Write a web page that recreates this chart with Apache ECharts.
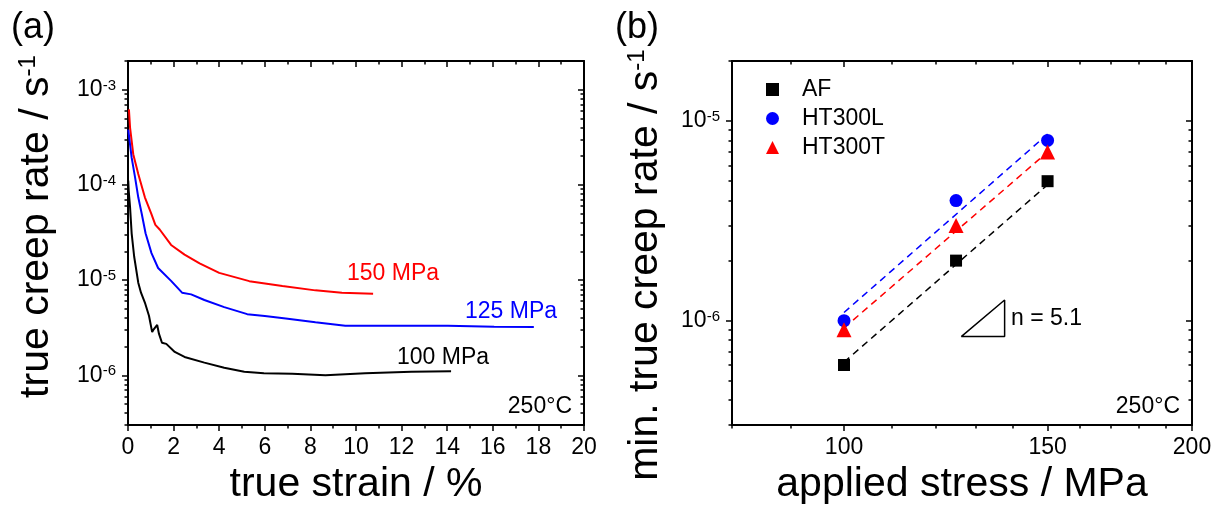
<!DOCTYPE html>
<html>
<head>
<meta charset="utf-8">
<script src="https://cdn.jsdelivr.net/npm/echarts@6/dist/echarts.min.js"></script>
<style>
html,body{margin:0;padding:0;background:#fff}
#main{width:1217px;height:510px}
</style>
</head>
<body>
<div id="main"></div>
<script>
// (a) creep curves, strain in %, rate in 1/s
const strain150 = [0.04, 0.09, 0.23, 0.45, 0.74, 1.02, 1.2, 1.39, 1.89, 2.48, 3.14, 4.0, 5.32, 6.77, 8.22, 9.38, 10.75]
const rate150 = [6.2e-4, 4.0e-4, 2.1e-4, 1.3e-4, 7.4e-5, 5.0e-5, 3.8e-5, 3.4e-5, 2.34e-5, 1.85e-5, 1.5e-5, 1.19e-5, 9.75e-6, 8.65e-6, 7.8e-6, 7.38e-6, 7.2e-6]
const strain125 = [0.01, 0.16, 0.31, 0.45, 0.6, 0.77, 1.03, 1.32, 1.9, 2.37, 2.77, 3.35, 4.22, 5.23, 6.0, 6.92, 8.22, 9.53, 11.85, 14.03, 16.06, 17.8]
const rate125 = [3.8e-4, 1.93e-4, 1.2e-4, 7.4e-5, 5.0e-5, 3.1e-5, 1.92e-5, 1.34e-5, 9.75e-6, 7.38e-6, 7.08e-6, 6.18e-6, 5.2e-6, 4.39e-6, 4.2e-6, 3.96e-6, 3.6e-6, 3.32e-6, 3.32e-6, 3.32e-6, 3.24e-6, 3.22e-6]
const strain100 = [0.01, 0.03, 0.09, 0.16, 0.27, 0.45, 0.57, 0.74, 0.92, 1.06, 1.12, 1.28, 1.36, 1.49, 1.68, 2.05, 2.48, 3.35, 4.22, 5.1, 5.96, 7.2, 8.66, 10.4, 12.43, 14.17]
const rate100 = [1.11e-4, 8.7e-5, 5.85e-5, 3.1e-5, 1.77e-5, 9.4e-6, 7.38e-6, 5.81e-6, 4.22e-6, 2.84e-6, 3.02e-6, 3.38e-6, 2.72e-6, 2.2e-6, 2.14e-6, 1.76e-6, 1.56e-6, 1.36e-6, 1.2e-6, 1.09e-6, 1.05e-6, 1.04e-6, 1.0e-6, 1.05e-6, 1.09e-6, 1.1e-6]

// (b) minimum creep rate vs stress
const stress = [100, 125, 150]
const rateAF = [6e-7, 2e-6, 5e-6]
const rateL = [1e-6, 4e-6, 8e-6]
const rateT = [9e-7, 3e-6, 7e-6]
// dashed fit lines (ends)
const fitStress = [100, 150]
const fitAF = [6.2e-7, 4.8e-6]
const fitL = [1.1e-6, 8.6e-6]
const fitT = [9.2e-7, 7.0e-6]
// slope triangle corners
const triX = [126.3, 137.7, 137.7, 126.3]
const triY = [8.33e-7, 8.33e-7, 1.27e-6, 8.33e-7]

// ticks
const ticksA_major = [1e-6, 1e-5, 1e-4, 1e-3]
const ticksA_minor = [3e-7, 4e-7, 5e-7, 6e-7, 7e-7, 8e-7, 9e-7,
  2e-6, 3e-6, 4e-6, 5e-6, 6e-6, 7e-6, 8e-6, 9e-6,
  2e-5, 3e-5, 4e-5, 5e-5, 6e-5, 7e-5, 8e-5, 9e-5,
  2e-4, 3e-4, 4e-4, 5e-4, 6e-4, 7e-4, 8e-4, 9e-4, 2e-3]
const ticksB_major = [1e-6, 1e-5]
const ticksB_minor = [3e-7, 4e-7, 5e-7, 6e-7, 7e-7, 8e-7, 9e-7,
  2e-6, 3e-6, 4e-6, 5e-6, 6e-6, 7e-6, 8e-6, 9e-6, 2e-5]
const stressMajor = [100, 150, 200]
const stressMinor = [80, 90, 110, 120, 130, 140, 160, 170, 180, 190]

const FONT = 'Liberation Sans'
const BLACK = '#000000', RED = '#ff0000', BLUE = '#0000ff'

function zip(xs, ys){
    return xs.map((x, i) => [x, ys[i]])
}
function supLabel(v){
    return '{b|10}{s|' + Math.round(Math.log10(v)) + '}'
}
const tickRich = {
    b: {fontSize: 23, fontFamily: FONT, color: BLACK},
    s: {fontSize: 15, fontFamily: FONT, color: BLACK, verticalAlign: 'top'}
}
// one axis = line/ticks/labels, built for both panels
function axis(o){
    let a = {
        gridIndex: o.grid,
        type: o.type,
        position: o.pos,
        min: o.min,
        max: o.max,
        splitLine: {show: false},
        axisLine: {show: o.line !== false, onZero: false, lineStyle: {color: BLACK, width: 2}},
        axisTick: {show: true, inside: !!o.inside, length: o.len || 6, lineStyle: {color: BLACK, width: 1.5}},
        axisLabel: {show: false}
    }
    if (o.type === 'log') a.logBase = 10
    if (o.interval) a.interval = o.interval
    if (o.ticks) a.axisTick.customValues = o.ticks
    if (o.minor) a.minorTick = {show: true, splitNumber: o.minor, length: 3.5, lineStyle: {color: BLACK, width: 1.5}}
    if (o.labels) a.axisLabel = o.labels
    if (o.name) {
        a.name = o.name
        a.nameLocation = 'middle'
        a.nameGap = o.gap
        a.nameTextStyle = {fontSize: 41, fontFamily: FONT, color: BLACK, padding: o.pad || 0,
            rich: {s: {fontSize: 24, fontFamily: FONT, color: BLACK, verticalAlign: 'top'}}}
    }
    return a
}

let myChart = echarts.init(document.getElementById('main'))

let xAxes = [
    // (a)
    axis({grid: 0, type: 'value', pos: 'bottom', min: 0, max: 20, interval: 2, minor: 2,
        labels: {show: true, margin: 11, fontSize: 23, fontFamily: FONT, color: BLACK},
        name: 'true strain / %', gap: 36}),
    axis({grid: 0, type: 'value', pos: 'top', min: 0, max: 20, interval: 2, minor: 2, inside: true}),
    // (b)
    axis({grid: 1, type: 'log', pos: 'bottom', min: 80, max: 200, ticks: stressMajor,
        labels: {show: true, margin: 11, fontSize: 23, fontFamily: FONT, color: BLACK, customValues: stressMajor},
        name: 'applied stress / MPa', gap: 36}),
    axis({grid: 1, type: 'log', pos: 'bottom', min: 80, max: 200, ticks: stressMinor, len: 3.5, line: false}),
    axis({grid: 1, type: 'log', pos: 'top', min: 80, max: 200, ticks: stressMajor, inside: true}),
    axis({grid: 1, type: 'log', pos: 'top', min: 80, max: 200, ticks: stressMinor, inside: true, len: 3.5, line: false})
]
let yAxes = [
    // (a)
    axis({grid: 0, type: 'log', pos: 'left', min: 3e-7, max: 2e-3, ticks: ticksA_major,
        labels: {show: true, margin: 12, customValues: ticksA_major, formatter: supLabel, rich: tickRich},
        name: 'true creep rate / s{s|-1}', gap: 71, pad: [0, 0, 0, 33]}),
    axis({grid: 0, type: 'log', pos: 'left', min: 3e-7, max: 2e-3, ticks: ticksA_minor, len: 3.5, line: false}),
    axis({grid: 0, type: 'log', pos: 'right', min: 3e-7, max: 2e-3, ticks: ticksA_major, inside: true}),
    axis({grid: 0, type: 'log', pos: 'right', min: 3e-7, max: 2e-3, ticks: ticksA_minor, inside: true, len: 3.5, line: false}),
    // (b)
    axis({grid: 1, type: 'log', pos: 'left', min: 3e-7, max: 2e-5, ticks: ticksB_major,
        labels: {show: true, margin: 12, customValues: ticksB_major, formatter: supLabel, rich: tickRich},
        name: 'min. true creep rate / s{s|-1}', gap: 66, pad: [0, 44, 0, 0]}),
    axis({grid: 1, type: 'log', pos: 'left', min: 3e-7, max: 2e-5, ticks: ticksB_minor, len: 3.5, line: false}),
    axis({grid: 1, type: 'log', pos: 'right', min: 3e-7, max: 2e-5, ticks: ticksB_major, inside: true}),
    axis({grid: 1, type: 'log', pos: 'right', min: 3e-7, max: 2e-5, ticks: ticksB_minor, inside: true, len: 3.5, line: false})
]

function curve(name, xs, ys, color){
    return {name: name, type: 'line', xAxisIndex: 0, yAxisIndex: 0, data: zip(xs, ys),
        showSymbol: false, symbol: 'none', lineStyle: {color: color, width: 2}, itemStyle: {color: color}, z: 3}
}
function fit(name, ys, color){
    return {name: name, type: 'line', xAxisIndex: 2, yAxisIndex: 4, data: zip(fitStress, ys),
        symbol: 'none', lineStyle: {color: color, width: 1.5, type: [7, 5]}, z: 2}
}
function points(name, ys, color, symbol, size){
    return {name: name, type: 'scatter', xAxisIndex: 2, yAxisIndex: 4, data: zip(stress, ys),
        symbol: symbol, symbolSize: size, itemStyle: {color: color, opacity: 1}, z: 4}
}

let option = {
    animation: false,
    backgroundColor: '#ffffff',
    grid: [
        {left: 128, top: 61, width: 456, height: 367},
        {left: 732, top: 61, width: 460, height: 367}
    ],
    xAxis: xAxes,
    yAxis: yAxes,
    legend: {
        left: 761, top: 73, orient: 'vertical', itemGap: 6,
        itemWidth: 13, itemHeight: 13, selectedMode: false,
        textStyle: {fontSize: 23, fontFamily: FONT, color: BLACK, padding: [0, 0, 0, 18]},
        data: [{name: 'AF', icon: 'rect'}, {name: 'HT300L', icon: 'circle'}, {name: 'HT300T', icon: 'triangle'}]
    },
    series: [
        curve('150 MPa', strain150, rate150, RED),
        curve('125 MPa', strain125, rate125, BLUE),
        curve('100 MPa', strain100, rate100, BLACK),
        fit('fit AF', fitAF, BLACK),
        fit('fit HT300L', fitL, BLUE),
        fit('fit HT300T', fitT, RED),
        points('AF', rateAF, BLACK, 'rect', 12),
        points('HT300L', rateL, BLUE, 'circle', 13),
        points('HT300T', rateT, RED, 'triangle', 15),
        {name: 'slope', type: 'line', xAxisIndex: 2, yAxisIndex: 4, data: zip(triX, triY),
            symbol: 'none', lineStyle: {color: BLACK, width: 1.5}, z: 2}
    ],
    graphic: [
        {type: 'text', style: {text: '(a)', x: 11, y: 10, fontSize: 36, fontFamily: FONT, fill: BLACK}},
        {type: 'text', style: {text: '(b)', x: 615, y: 10, fontSize: 36, fontFamily: FONT, fill: BLACK}},
        {type: 'text', style: {text: '150 MPa', x: 347, y: 274, fontSize: 23, fontFamily: FONT, fill: RED, verticalAlign: 'middle'}},
        {type: 'text', style: {text: '125 MPa', x: 465, y: 312, fontSize: 23, fontFamily: FONT, fill: BLUE, verticalAlign: 'middle'}},
        {type: 'text', style: {text: '100 MPa', x: 397, y: 358, fontSize: 23, fontFamily: FONT, fill: BLACK, verticalAlign: 'middle'}},
        {type: 'text', style: {text: '250°C', x: 572, y: 407, fontSize: 23, fontFamily: FONT, fill: BLACK, align: 'right', verticalAlign: 'middle'}},
        {type: 'text', style: {text: '250°C', x: 1180, y: 407, fontSize: 23, fontFamily: FONT, fill: BLACK, align: 'right', verticalAlign: 'middle'}},
        {type: 'text', style: {text: 'n = 5.1', x: 1011, y: 319, fontSize: 23, fontFamily: FONT, fill: BLACK, verticalAlign: 'middle'}}
    ]
}
myChart.setOption(option)
</script>
</body>
</html>
